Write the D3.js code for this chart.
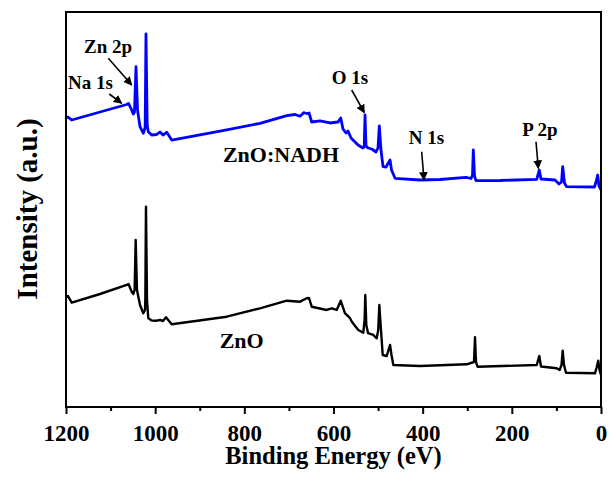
<!DOCTYPE html>
<html>
<head>
<meta charset="utf-8">
<script src="https://cdn.jsdelivr.net/npm/d3@7"></script>
<style>
  html, body { margin: 0; padding: 0; background: #fff; }
  svg { display: block; }
  text { font-family: "Liberation Serif", "Times New Roman", serif; font-weight: bold; fill: #000; }
</style>
</head>
<body>
<svg id="chart" width="612" height="479"></svg>
<script>
// XPS survey spectra: binding energy (eV) and intensity (a.u., stacked)
const nadhEnergy = [1200, 1195.5, 1187.2, 1123.7, 1063.8, 1059.8, 1052.6, 1049.0, 1046.4, 1043.0, 1039.6,
  1034.0, 1026.6, 1022.8, 1022.4, 1020.6, 1017.9, 1015.4, 1007.8, 996.6, 989.2, 982.4, 974.1, 962.9,
  839.5, 764.9, 704.9, 686.4, 675.0, 667.0, 660.1, 654.9, 648.9, 630.3, 607.8, 589.9, 583.8, 578.7,
  572.0, 567.5, 560.7, 545.0, 533.8, 531.1, 529.3, 527.1, 522.6, 514.3, 504.6, 500.2, 497.2, 493.5,
  488.9, 482.2, 473.2, 469.9, 462.0, 406.0, 361.1, 302.8, 291.6, 288.2, 286.4, 283.7, 280.4, 226.6,
  144.2, 138.4, 134.6, 103.2, 94.2, 88.6, 85.9, 81.9, 77.4, 14.6, 11.2, 7.4, 4.5, 0];
const nadhIntensity = [73.16, 73.4, 72.66, 74.68, 76.58, 76.84, 75.19, 74.18, 74.68, 86.15, 75.19,
  70.96, 69.29, 70.63, 71.39, 94.43, 71.39, 69.70, 68.86, 68.99, 69.62, 68.86, 69.54, 67.59,
  70.13, 71.82, 73.75, 74.05, 73.6, 74.5, 74.30, 74.43, 72.15, 72.41, 71.90, 72.15, 73.16, 70.38,
  69.37, 69.87, 68.10, 66.33, 65.57, 65.82, 73.92, 66.08, 65.57, 65.32, 64.56, 65.57, 71.14, 65.06,
  60.84, 60.76, 62.53, 60.0, 57.90, 57.47, 57.59, 58.15, 57.85, 58.73, 65.06, 58.48, 57.29, 57.34,
  57.65, 60.0, 57.72, 57.47, 56.46, 56.96, 60.84, 56.71, 55.77, 55.70, 56.96, 58.73, 55.95, 54.94];

const znoEnergy = [1200, 1195.5, 1187.2, 1123.7, 1063.8, 1059.8, 1052.6, 1049.0, 1046.1, 1043.7, 1040.8,
  1034.0, 1026.6, 1022.8, 1022.1, 1020.6, 1018.3, 1015.4, 1007.8, 996.6, 989.2, 982.4, 975.7, 962.9,
  839.5, 764.9, 704.9, 675.1, 660.1, 654.9, 648.9, 615.2, 604.0, 592.8, 583.8, 574.2, 567.5, 563.0,
  558.5, 544.4, 533.2, 530.2, 528.7, 526.4, 522.6, 510.7, 503.1, 499.7, 497.2, 493.5, 489.6, 480.7,
  473.2, 469.9, 465.8, 406.0, 301.2, 284.9, 282.6, 280.4, 277.0, 144.2, 138.4, 134.6, 99.4, 92.7,
  88.6, 85.9, 83.0, 78.5, 13.5, 10.1, 6.1, 3.4, 0];
const znoIntensity = [27.77, 28.10, 26.41, 28.61, 30.89, 31.14, 29.19, 28.61, 29.62, 42.28, 29.62,
  25.82, 23.72, 24.56, 27.09, 50.71, 27.09, 22.46, 21.90, 21.85, 22.03, 21.77, 22.71, 20.94,
  22.86, 24.99, 26.91, 26.66, 27.52, 27.59, 25.39, 24.56, 24.99, 24.56, 26.91, 23.72, 23.04, 22.46,
  21.52, 19.49, 18.81, 22.03, 28.35, 20.76, 18.73, 18.23, 17.39, 19.49, 25.82, 19.49, 13.16, 12.91,
  15.70, 13.16, 10.63, 10.38, 10.81, 11.39, 17.65, 11.39, 10.20, 10.63, 12.91, 10.25, 9.80, 9.37,
  10.63, 14.25, 10.63, 8.68, 8.53, 9.87, 11.72, 9.37, 8.10];

const majorTicks = [1200, 1000, 800, 600, 400, 200, 0];
const minorTicks = [1100, 900, 700, 500, 300, 100];

// peak annotations: text anchor and arrow (tail -> tip), in eV / a.u.
const peakLabels = ["Na 1s", "Zn 2p", "O 1s", "N 1s", "P 2p"];
const labelPos = [[1145, 80.5], [1105.8, 89.6], [563.0, 81.65], [391.4, 66.46], [136.8, 68.53]];
const arrowTail = [[1102.9, 79.24], [1105.1, 88.28], [559.2, 80.25], [402.2, 64.63], [145.8, 67.16]];
const arrowTip = [[1075.1, 76.89], [1052.6, 81.52], [530.9, 74.51], [397.0, 57.47], [140.6, 60.43]];

const seriesNames = ["ZnO:NADH", "ZnO"];
const seriesColors = ["#0000ff", "#000000"];
const seriesLabelPos = [[717.8, 62.1], [805.9, 14.86]];

const svg = d3.select("#chart");
const margin = { left: 66, right: 11, top: 12, bottom: 72 };
const W = 612, H = 479;

const x = d3.scaleLinear().domain([1200, 0]).range([margin.left, W - margin.right]);
const y = d3.scaleLinear().domain([0, 100]).range([H - margin.bottom, margin.top]);

svg.append("rect").attr("width", W).attr("height", H).attr("fill", "#fff");

const defs = svg.append("defs");
defs.append("marker")
  .attr("id", "head")
  .attr("viewBox", "0 0 10 10")
  .attr("refX", 9).attr("refY", 5)
  .attr("markerWidth", 5.5).attr("markerHeight", 5.5)
  .attr("markerUnits", "strokeWidth")
  .attr("orient", "auto")
  .append("path").attr("d", "M0,0 L10,5 L0,10 Z").attr("fill", "#000");

// spectra
const line = d3.line().x(d => x(d[0])).y(d => y(d[1]));
const series = [
  d3.zip(nadhEnergy, nadhIntensity),
  d3.zip(znoEnergy, znoIntensity)
];
const widths = [2.8, 2.4];
series.forEach((s, i) => {
  svg.append("path")
    .datum(s)
    .attr("fill", "none")
    .attr("stroke", seriesColors[i])
    .attr("stroke-width", widths[i])
    .attr("stroke-linejoin", "round")
    .attr("d", line);
});

// series names
seriesNames.forEach((n, i) => {
  svg.append("text")
    .attr("x", x(seriesLabelPos[i][0]))
    .attr("y", y(seriesLabelPos[i][1]))
    .attr("text-anchor", "middle")
    .style("font-size", "22px")
    .text(n);
});

// peak annotations
peakLabels.forEach((t, i) => {
  svg.append("text")
    .attr("x", x(labelPos[i][0]))
    .attr("y", y(labelPos[i][1]))
    .attr("text-anchor", "middle")
    .style("font-size", "19px")
    .text(t);
  svg.append("line")
    .attr("x1", x(arrowTail[i][0])).attr("y1", y(arrowTail[i][1]))
    .attr("x2", x(arrowTip[i][0])).attr("y2", y(arrowTip[i][1]))
    .attr("stroke", "#000")
    .attr("stroke-width", 1.6)
    .attr("marker-end", "url(#head)");
});

// frame
svg.append("rect")
  .attr("x", margin.left).attr("y", margin.top)
  .attr("width", W - margin.right - margin.left)
  .attr("height", H - margin.bottom - margin.top)
  .attr("fill", "none").attr("stroke", "#000").attr("stroke-width", 2);

// x axis: major and minor ticks
const gx = svg.append("g").attr("transform", `translate(0,${H - margin.bottom})`);
gx.call(d3.axisBottom(x).tickValues(majorTicks).tickSize(7).tickFormat(d3.format("d")));
gx.select(".domain").remove();
gx.selectAll(".tick line").attr("stroke", "#000").attr("stroke-width", 2);
gx.selectAll(".tick text")
  .attr("y", 34).attr("dy", 0)
  .style("font-size", "23px")
  .style("font-family", "'Liberation Serif', serif")
  .style("font-weight", "bold")
  .attr("fill", "#000");

const gm = svg.append("g").attr("transform", `translate(0,${H - margin.bottom})`);
gm.call(d3.axisBottom(x).tickValues(minorTicks).tickSize(4).tickFormat(""));
gm.select(".domain").remove();
gm.selectAll(".tick line").attr("stroke", "#000").attr("stroke-width", 2);

// axis titles
svg.append("text")
  .attr("x", (margin.left + W - margin.right) / 2)
  .attr("y", 464)
  .attr("text-anchor", "middle")
  .style("font-size", "24.5px")
  .text("Binding Energy (eV)");

svg.append("text")
  .attr("transform", "translate(37,209) rotate(-90)")
  .attr("text-anchor", "middle")
  .style("font-size", "29px")
  .text("Intensity (a.u.)");
</script>
</body>
</html>
